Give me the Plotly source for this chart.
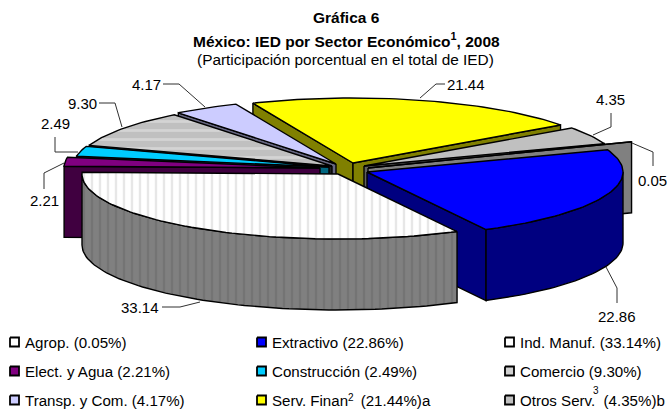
import math
import plotly.graph_objects as go

NB = "\u00a0"
categories = ["Agrop.", "Extractivo", "Ind. Manuf.", "Elect. y Agua", "Construcción",
              "Comercio", "Transp. y Com.", "Serv. Finan", "Otros Serv."]
values = [0.05, 22.86, 33.14, 2.21, 2.49, 9.30, 4.17, 21.44, 4.35]
value_labels = ["0.05", "22.86", "33.14", "2.21", "2.49", "9.30", "4.17", "21.44", "4.35"]
legend_labels = ["Agrop. (0.05%)", "Extractivo (22.86%)", "Ind. Manuf. (33.14%)",
                 "Elect. y Agua (2.21%)", "Construcción (2.49%)", "Comercio (9.30%)",
                 "Transp. y Com. (4.17%)", "Serv. Finan" + NB * 3 + "(21.44%)a", "Otros Serv." + NB * 2 + "(4.35%)b"]

top_colors = ["#FFFFFF", "#0000FF", "#FFFFFF", "#800080", "#00CCFF", "#C0C0C0", "#CCCCFF", "#FFFF00", "#C0C0C0"]
side_colors = ["#808080", "#000080", "#808080", "#400040", "#006680", "#202020", "#666680", "#808000", "#606060"]
swatch_colors = ["#FFFFFF", "#0000FF", "#FFFFFF", "#800080", "#00CCFF", "#D0D0D0", "#CCCCFF", "#FFFF00", "#C0C0C0"]

# exploded centre of each slice, in page pixels
centres = [(391, 164), (367, 172), (338, 174), (320, 168), (329, 167), (332, 166), (336, 164), (353, 163), (364, 166)]
AGROP_APEX = (368, 168)
RX, RY, DEPTH, START = 256, 65, 71, 69.82
draw_order = [7, 8, 6, 5, 4, 3, 0, 1, 2]

total = sum(values)
bounds = [START]
for v in values:
    bounds.append(bounds[-1] + v / total * 360)

fig = go.Figure()


def pt(c, deg, drop=0):
    r = math.radians(deg)
    return c[0] + RX * math.sin(r), c[1] - RY * math.cos(r) + drop


def arc(c, a0, a1, drop=0):
    n = max(2, int(abs(a1 - a0) / 1.5) + 2)
    return [pt(c, a0 + (a1 - a0) * i / (n - 1), drop) for i in range(n)]


def poly(points, fill, pattern=None, lw=1.4):
    xs = [p[0] for p in points] + [points[0][0]]
    ys = [p[1] for p in points] + [points[0][1]]
    kw = {}
    if pattern:
        kw["fillpattern"] = pattern
    fig.add_trace(go.Scatter(x=xs, y=ys, mode="lines", fill="toself", fillcolor=fill,
                             line=dict(color="black", width=lw), hoverinfo="skip",
                             showlegend=False, **kw))


def face(c, deg, apex):
    o = pt(c, deg)
    return [apex, o, (o[0], o[1] + DEPTH), (apex[0], apex[1] + DEPTH)]


ind_top = dict(shape="|", size=8, solidity=0.3, bgcolor="#FFFFFF", fgcolor="#CFCFCF")
ind_wall = dict(shape="|", size=8, solidity=0.3, bgcolor="#808080", fgcolor="#686868")
com_top = dict(shape="-", size=9, solidity=0.3, bgcolor="#C0C0C0", fgcolor="#E8E8E8")

for i in draw_order:
    c, a0, a1 = centres[i], bounds[i], bounds[i + 1]
    apex = AGROP_APEX if i == 0 else c
    side = side_colors[i]
    if math.sin(math.radians(a0)) < 0:
        poly(face(c, a0, apex), side)
    if math.sin(math.radians(a1)) > 0:
        poly(face(c, a1, apex), side)
    w0, w1 = max(a0, 90), min(a1, 270)
    if w1 > w0:
        poly(arc(c, w0, w1) + arc(c, w1, w0, DEPTH), side, ind_wall if i == 2 else None)
    pattern = ind_top if i == 2 else com_top if i == 5 else None
    poly([apex] + arc(c, a0, a1), top_colors[i], pattern)

# leader lines: label position, then elbow points
leaders = {
    "0.05": ((652, 180), [(653, 166), (653, 152), (632, 143)]),
    "22.86": ((617, 316), [(617, 303), (617, 288), (606, 267)]),
    "33.14": ((140, 307), [(162, 307), (180, 307), (200, 302)]),
    "2.21": ((44, 200), [(44, 189), (44, 173), (64, 163)]),
    "2.49": ((55, 123), [(55, 137), (55, 152), (78, 152)]),
    "9.30": ((82, 103), [(99, 103), (115, 103), (122, 127)]),
    "4.17": ((146, 84), [(163, 84), (179, 84), (205, 107)]),
    "21.44": ((466, 84), [(445, 84), (436, 84), (420, 98)]),
    "4.35": ((610, 99), [(611, 113), (611, 127), (593, 135)]),
}
annotations = []
for lab in value_labels:
    (tx, ty), line = leaders[lab]
    fig.add_trace(go.Scatter(x=[p[0] for p in line], y=[p[1] for p in line], mode="lines",
                             line=dict(color="#303030", width=1), hoverinfo="skip", showlegend=False))
    annotations.append(dict(x=tx, y=ty, text=lab, showarrow=False, xref="x", yref="y",
                            xanchor="center", yanchor="middle", font=dict(size=15)))

# legend
col_x = [10, 257, 505]
row_y = [342, 371, 400]
SW = 9
for k, label in enumerate(legend_labels):
    x0, y0 = col_x[k % 3], row_y[k // 3]
    h = SW / 2
    poly([(x0, y0 - h), (x0 + SW, y0 - h), (x0 + SW, y0 + h), (x0, y0 + h)], swatch_colors[k], None, 1.8)
    annotations.append(dict(x=x0 + SW + 4, y=y0 + 0.5, text=label, showarrow=False, xref="x", yref="y",
                            xanchor="left", yanchor="middle", font=dict(size=15.1)))
annotations.append(dict(x=596, y=390, text="3", showarrow=False, xref="x", yref="y",
                        xanchor="center", yanchor="middle", font=dict(size=10)))
annotations.append(dict(x=351, y=397, text="2", showarrow=False, xref="x", yref="y",
                        xanchor="center", yanchor="middle", font=dict(size=10)))

# titles
annotations += [
    dict(x=346, y=17, text="<b>Gráfica 6</b>", showarrow=False, xref="x", yref="y", font=dict(size=15.5)),
    dict(x=346, y=40, text="<b>México: IED por Sector Económico<sup>1</sup>, 2008</b>", showarrow=False,
         xref="x", yref="y", font=dict(size=15.5)),
    dict(x=345, y=59, text="(Participación porcentual en el total de IED)", showarrow=False,
         xref="x", yref="y", font=dict(size=15.4)),
]

fig.update_layout(
    width=667, height=409, margin=dict(l=0, r=0, t=0, b=0),
    paper_bgcolor="white", plot_bgcolor="white",
    font=dict(family="Liberation Sans, Arial, sans-serif", color="black", size=15),
    xaxis=dict(range=[0, 667], visible=False, fixedrange=True),
    yaxis=dict(range=[409, 0], visible=False, fixedrange=True),
    annotations=annotations, showlegend=False,
)
fig.write_html("out.html", post_script="document.body.style.margin='0';document.body.style.overflow='hidden';",
               config={"displayModeBar": False})
